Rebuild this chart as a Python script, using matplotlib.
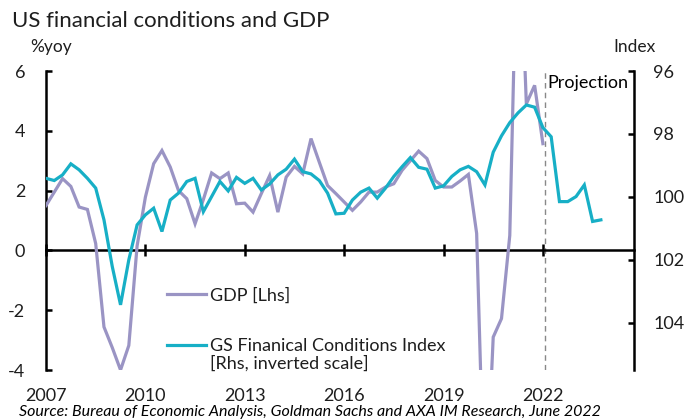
import matplotlib
matplotlib.use("Agg")
import matplotlib.pyplot as plt
import numpy as np

# Quarterly data starting 2007Q1
quarters = [f"{y}Q{q}" for y in range(2007, 2025) for q in range(1, 5)]
gdp_yoy = [1.5, 1.95, 2.4, 2.14, 1.45, 1.37, 0.23, -2.56,
           -3.25, -4.0, -3.18, 0.15, 1.78, 2.9, 3.34, 2.79,
           2.0, 1.73, 0.89, 1.7, 2.59, 2.4, 2.59, 1.56,
           1.58, 1.28, 1.9, 2.5, 1.28, 2.45, 2.81, 2.56,
           3.74, 2.95, 2.17, 1.9, 1.62, 1.34, 1.62, 1.95,
           1.95, 2.12, 2.23, 2.68, 3.0, 3.32, 3.07, 2.34,
           2.12, 2.12, 2.32, 2.54, 0.57, -9.1, -2.9, -2.28,
           0.5, 12.2, 4.9, 5.52, 3.57]
gs_fci = [99.41, 99.48, 99.30, 98.95, 99.14, 99.41, 99.72, 100.73,
          102.21, 103.43, 102.0, 100.89, 100.57, 100.36, 101.1, 100.1,
          99.88, 99.51, 99.41, 100.47, 99.99, 99.51, 99.81, 99.38,
          99.57, 99.41, 99.78, 99.59, 99.30, 99.12, 98.80, 99.20,
          99.27, 99.48, 99.88, 100.54, 100.52, 100.1, 99.85, 99.72,
          100.04, 99.72, 99.35, 99.04, 98.75, 99.06, 99.12, 99.72,
          99.65, 99.35, 99.14, 99.03, 99.2, 99.62, 98.58, 98.06,
          97.64, 97.33, 97.08, 97.15, 97.80, 98.09, 100.15, 100.15,
          99.99, 99.62, 100.78, 100.73]
year_ticks = ["2007", "2010", "2013", "2016", "2019", "2022"]
left_ticks = [-4, -2, 0, 2, 4, 6]
right_ticks = [96, 98, 100, 102, 104]

purple = "#9a94c4"
teal = "#17afc6"
txt = "#1e1e1e"
plt.rcParams["font.family"] = ["Lato", "DejaVu Sans"]

fig = plt.figure(figsize=(6.87, 4.19), dpi=100)
ax = fig.add_axes([46/687, 1-370/419, (634-46)/687, (370-71)/419])
ax2 = ax.twinx()

x_gdp = np.arange(len(gdp_yoy))
x_fci = np.arange(len(gs_fci))
n = len(quarters)

l1, = ax.plot(x_gdp, gdp_yoy, color=purple, lw=2.3, solid_joinstyle="miter", zorder=3)
l2, = ax2.plot(x_fci, gs_fci, color=teal, lw=2.3, solid_joinstyle="miter", zorder=3)

ax.set_xlim(0, n - 1)
ax.set_ylim(-4, 6)
ax2.set_ylim(105.5, 96)

# Spines
ax.spines["top"].set_visible(False)
ax2.spines["top"].set_visible(False)
ax.spines["right"].set_visible(False)
ax2.spines["left"].set_visible(False)
ax2.spines["bottom"].set_visible(False)
ax.spines["left"].set_linewidth(1.8)
ax2.spines["right"].set_linewidth(1.8)
ax.spines["bottom"].set_position(("data", 0))
ax.spines["bottom"].set_linewidth(1.8)

tick_pos = [quarters.index(y + "Q1") for y in year_ticks]
ax.set_xticks(tick_pos)
ax.tick_params(axis="x", direction="inout", length=9, width=1.8, labelbottom=False)
sec = ax.secondary_xaxis(0)
sec.set_xticks(tick_pos)
sec.set_xticklabels(year_ticks)
sec.tick_params(axis="x", length=0, pad=13, labelsize=13, labelcolor=txt)
sec.spines["bottom"].set_visible(False)

ax.set_yticks(left_ticks)
ax.set_yticklabels([str(v) for v in left_ticks])
ax.tick_params(axis="y", direction="in", length=4.5, width=1.8, labelsize=13,
               labelcolor=txt, pad=15)
ax2.set_yticks(right_ticks)
ax2.set_yticklabels([str(v) for v in right_ticks])
ax2.tick_params(axis="y", direction="in", length=4.5, width=1.8, labelsize=13,
                labelcolor=txt, pad=14)

# Projection line
ax.axvline(60.3, color="#888888", lw=1.0, ls=(0, (4, 3)), zorder=2)
ax.text(60.5, 5.88, "Projection", fontsize=13, va="top", ha="left", color="black")

# Legend
leg = ax.legend([l1, l2], ["GDP [Lhs]", "GS Finanical Conditions Index"],
                loc="upper left", bbox_to_anchor=(162/687, 1-282/419),
                bbox_transform=fig.transFigure, frameon=False,
                fontsize=13, handlelength=2.15, handletextpad=0.2, labelspacing=1.9,
                labelcolor=txt, borderaxespad=0, borderpad=0.3)
fig.text(210/687, 1-363/419, "[Rhs, inverted scale]", fontsize=13,
         va="center", ha="left", color=txt)

# Text
fig.text(12/687, 1-21/419, "US financial conditions and GDP", fontsize=16,
         va="center", ha="left", color=txt)
fig.text(30/687, 1-47/419, "%yoy", fontsize=12.5, va="center", ha="left", color=txt)
fig.text(613/687, 1-47/419, "Index", fontsize=12.5, va="center", ha="left", color=txt)
fig.text(19/687, 1-411.5/419,
         "Source: Bureau of Economic Analysis, Goldman Sachs and AXA IM Research, June 2022",
         fontsize=11.5, style="italic", va="center", ha="left", color="black")

fig.savefig("out.png", dpi=100)
